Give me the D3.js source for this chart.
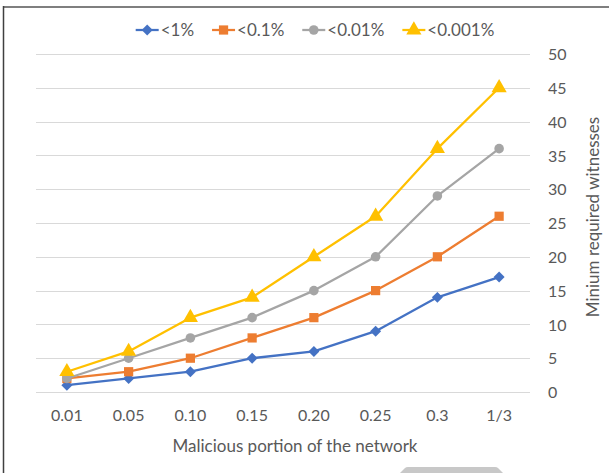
<!DOCTYPE html>
<html>
<head>
<meta charset="utf-8">
<script src="https://cdn.jsdelivr.net/npm/d3@7"></script>
<style>
  html, body { margin: 0; padding: 0; background: #fff; }
  svg { display: block; font-family: Lato, "Open Sans", sans-serif; }
</style>
</head>
<body>
<svg id="chart" width="609" height="473"></svg>
<script>
// Category labels along the x axis (malicious share of the network)
const categories = ["0.01", "0.05", "0.10", "0.15", "0.20", "0.25", "0.3", "1/3"];

// Minimum required witnesses per failure-probability bound
const seriesNames = ["<1%", "<0.1%", "<0.01%", "<0.001%"];
const below1 = [1, 2, 3, 5, 6, 9, 14, 17];
const below01 = [2, 3, 5, 8, 11, 15, 20, 26];
const below001 = [2, 5, 8, 11, 15, 20, 29, 36];
const below0001 = [3, 6, 11, 14, 20, 26, 36, 45];

const yTicks = [0, 5, 10, 15, 20, 25, 30, 35, 40, 45, 50];

// square-proportioned diamond marker
const wideDiamond = {
  draw(ctx, size) {
    const r = Math.sqrt(size / 2);
    ctx.moveTo(0, -r); ctx.lineTo(r, 0); ctx.lineTo(0, r); ctx.lineTo(-r, 0); ctx.closePath();
  }
};

const colors = ["#4472C4", "#ED7D31", "#A5A5A5", "#FFC000"];
const symbols = [wideDiamond, d3.symbolSquare, d3.symbolCircle, d3.symbolTriangle];
const symbolSizes = [60, 85, 72, 100];

const series = seriesNames.map((name, i) => ({
  name,
  values: [below1, below01, below001, below0001][i],
  color: colors[i],
  symbol: symbols[i],
  size: symbolSizes[i]
}));

const svg = d3.select("#chart");
const textColor = "#595959";

// chart frame (top and left edges)
svg.append("line").attr("x1", 3).attr("x2", 609).attr("y1", 7).attr("y2", 7)
  .attr("stroke", "#7f7f7f").attr("stroke-width", 2);
svg.append("line").attr("x1", 3.5).attr("x2", 3.5).attr("y1", 6).attr("y2", 473)
  .attr("stroke", "#404040").attr("stroke-width", 1.5);

const plot = { left: 36, right: 530, top: 54, bottom: 392 };

const x = d3.scaleBand().domain(categories).range([plot.left, plot.right]).padding(0);
const y = d3.scaleLinear().domain([0, 50]).range([plot.bottom, plot.top]);

// horizontal gridlines
svg.append("g").selectAll("line").data(yTicks).join("line")
  .attr("x1", plot.left).attr("x2", plot.right)
  .attr("y1", d => Math.round(y(d)) + 0.5).attr("y2", d => Math.round(y(d)) + 0.5)
  .attr("stroke", "#d9d9d9").attr("stroke-width", 1);

// right-hand value axis
const yAxis = svg.append("g")
  .attr("transform", `translate(${plot.right},0)`)
  .call(d3.axisRight(y).tickValues(yTicks).tickSize(0).tickPadding(18));
yAxis.select(".domain").remove();
yAxis.selectAll("text").attr("fill", textColor).style("font-size", "16px")
  .style("font-family", "Lato, sans-serif").attr("dy", "0.35em");

// category axis labels
const xAxis = svg.append("g")
  .attr("transform", `translate(0,${plot.bottom})`)
  .call(d3.axisBottom(x).tickSize(0).tickPadding(18));
xAxis.select(".domain").remove();
xAxis.selectAll("text").attr("fill", textColor).style("font-size", "16px")
  .style("font-family", "Lato, sans-serif");

// axis titles
svg.append("text")
  .attr("x", (plot.left + plot.right) / 2 + 12).attr("y", 445)
  .attr("text-anchor", "middle").attr("dominant-baseline", "central")
  .attr("fill", textColor).style("font-size", "17px")
  .text("Malicious portion of the network");

svg.append("text")
  .attr("transform", `translate(592,${(plot.top + plot.bottom) / 2 - 6}) rotate(-90)`)
  .attr("text-anchor", "middle").attr("dominant-baseline", "central")
  .attr("fill", textColor).style("font-size", "17px")
  .text("Minium required witnesses");

// series lines and markers
const line = d3.line()
  .x((d, i) => x(categories[i]) + x.bandwidth() / 2)
  .y(d => y(d));

const sg = svg.append("g").selectAll("g").data(series).join("g");
sg.append("path")
  .attr("d", d => line(d.values))
  .attr("fill", "none").attr("stroke", d => d.color)
  .attr("stroke-width", 2.25).attr("stroke-linejoin", "round");
sg.each(function (s) {
  d3.select(this).selectAll("path.m").data(s.values).join("path")
    .attr("class", "m")
    .attr("transform", (d, i) => `translate(${x(categories[i]) + x.bandwidth() / 2},${y(d)})`)
    .attr("d", d3.symbol().type(s.symbol).size(s.size))
    .attr("fill", s.color);
});

// legend
const legend = svg.append("g");
const items = legend.selectAll("g").data(series).join("g");
items.append("line").attr("x1", 0).attr("x2", 23).attr("y1", 0).attr("y2", 0)
  .attr("stroke", d => d.color).attr("stroke-width", 2.25);
items.append("path")
  .attr("transform", "translate(11.5,0)")
  .attr("d", d => d3.symbol().type(d.symbol).size(d.size)())
  .attr("fill", d => d.color);
items.append("text").attr("x", 25).attr("y", 0).attr("dy", "0.35em")
  .attr("fill", textColor).style("font-size", "17px")
  .text(d => d.name);

let offset = 0;
const widths = [];
items.each(function () {
  const w = 25 + d3.select(this).select("text").node().getComputedTextLength();
  widths.push(w);
});
const total = d3.sum(widths) + 18 * (widths.length - 1);
const start = 315 - total / 2;
items.attr("transform", (d, i) => {
  const tx = start + offset;
  offset += widths[i] + 18;
  return `translate(${tx},30)`;
});

// partially visible scroll tab at the bottom edge
svg.append("path")
  .attr("d", "M400,473 L405,468 Q406,467 408,467 L495,467 Q497,467 498,468 L503,473 Z")
  .attr("fill", "#c8c8c8");
</script>
</body>
</html>
